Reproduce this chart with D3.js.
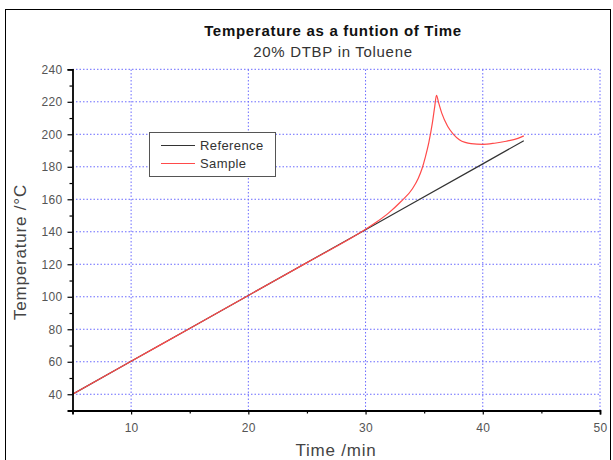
<!DOCTYPE html>
<html><head><meta charset="utf-8">
<script src="https://cdn.jsdelivr.net/npm/d3@7"></script>
<style>body{margin:0;background:#fff;}svg{display:block;font-family:"Liberation Sans",Arial,sans-serif;}</style>
</head><body>
<script>
const title = "Temperature as a funtion of Time";
const subtitle = "20% DTBP in Toluene";
const xLabel = "Time /min";
const yLabel = "Temperature /\u00B0C";
const seriesNames = ["Reference", "Sample"];
const refTime = [5, 10, 20, 30, 40, 43.5];
const refTemp = [40, 60.3, 100.8, 141.3, 181.8, 196];
const sampleTime = [5, 10, 15, 20, 25, 30, 31, 32, 33, 34, 34.5, 34.8, 35.1, 35.4, 35.7, 35.9, 36.05, 36.25, 36.5, 37, 37.5, 38, 38.5, 39, 40, 41, 42, 43, 43.5];
const sampleTemp = [40, 60.3, 80.5, 100.8, 121, 141.5, 146.3, 151.8, 158.5, 166.5, 173, 178.5, 186, 195, 207, 217, 224, 219, 213, 205, 200, 196.7, 195, 194.2, 193.8, 194.5, 195.7, 197.5, 199];
const xTicks = [10, 20, 30, 40, 50];
const xMinor = [5, 15, 25, 35, 45];
const yTicks = [40, 60, 80, 100, 120, 140, 160, 180, 200, 220, 240];
const yMinor = [50, 70, 90, 110, 130, 150, 170, 190, 210, 230];

const W = 613, H = 460;
const svg = d3.select("body").append("svg").attr("width", W).attr("height", H);
svg.append("rect").attr("x", 5.5).attr("y", 9.5).attr("width", 605).attr("height", 470)
  .attr("fill", "none").attr("stroke", "#000").attr("stroke-width", 1);

const x = d3.scaleLinear().domain([5, 50]).range([72.5, 600]);
const y = d3.scaleLinear().domain([30, 240]).range([410.5, 69.3]);

// grid
const gridColor = "#6a6aff";
const g = svg.append("g");
g.selectAll(".hg").data(yTicks).join("line")
  .attr("x1", x(5)).attr("x2", x(50)).attr("y1", d => y(d)).attr("y2", d => y(d))
  .attr("stroke", gridColor).attr("stroke-width", 1).attr("stroke-dasharray", "1.5,2");
g.selectAll(".vg").data(xTicks).join("line")
  .attr("y1", y(30)).attr("y2", y(240)).attr("x1", d => x(d)).attr("x2", d => x(d))
  .attr("stroke", gridColor).attr("stroke-width", 1).attr("stroke-dasharray", "1.5,2");

// lines
const refData = refTime.map((t, i) => [t, refTemp[i]]);
const sampleData = sampleTime.map((t, i) => [t, sampleTemp[i]]);
const line = d3.line().x(d => x(d[0])).y(d => y(d[1])).curve(d3.curveMonotoneX);
svg.append("path").datum(refData).attr("d", line).attr("fill", "none")
  .attr("stroke", "#333").attr("stroke-width", 1.2);
svg.append("path").datum(sampleData).attr("d", line).attr("fill", "none")
  .attr("stroke", "#ff4a4a").attr("stroke-width", 1.2);

// axes
svg.append("g").attr("transform", `translate(0,${y(30)})`)
  .call(d3.axisBottom(x).tickValues(xTicks).tickSize(4).tickPadding(9).tickFormat(d3.format("d")));
svg.append("g").attr("transform", `translate(0,${y(30)})`)
  .call(d3.axisBottom(x).tickValues(xMinor).tickSize(3).tickFormat(""))
  .call(s => s.select(".domain").remove());
svg.append("g").attr("transform", `translate(${x(5)},0)`)
  .call(d3.axisLeft(y).tickValues(yTicks).tickSize(5).tickPadding(5).tickFormat(d3.format("d")));
svg.append("g").attr("transform", `translate(${x(5)},0)`)
  .call(d3.axisLeft(y).tickValues(yMinor).tickSize(3).tickFormat(""))
  .call(s => s.select(".domain").remove());
svg.selectAll(".domain").attr("stroke", "#000").attr("stroke-width", 1.8);
svg.selectAll(".tick line").attr("stroke", "#000").attr("stroke-width", 1.2);
svg.selectAll(".tick text").attr("fill", "#555").style("font-size", "12px")
  .style("letter-spacing", "0.3px")
  .style("font-family", "'Liberation Sans',Arial,sans-serif");

// titles
svg.append("text").attr("x", 333).attr("y", 36).attr("text-anchor", "middle")
  .style("font-size", "15px").style("font-weight", "bold").style("letter-spacing", "0.7px")
  .attr("fill", "#111").text(title);
svg.append("text").attr("x", 333).attr("y", 57).attr("text-anchor", "middle")
  .style("font-size", "15px").style("letter-spacing", "0.7px").attr("fill", "#333").text(subtitle);
svg.append("text").attr("x", 336).attr("y", 456).attr("text-anchor", "middle")
  .style("font-size", "17px").style("letter-spacing", "0.8px").attr("fill", "#444").text(xLabel);
svg.append("text").attr("transform", "translate(26,252) rotate(-90)").attr("text-anchor", "middle")
  .style("font-size", "17px").style("letter-spacing", "0.8px").attr("fill", "#444").text(yLabel);

// legend
const lg = svg.append("g");
lg.append("rect").attr("x", 149.5).attr("y", 132.5).attr("width", 126).attr("height", 44)
  .attr("fill", "#fff").attr("stroke", "#555").attr("stroke-width", 1);
const colors = ["#333", "#ff4a4a"];
seriesNames.forEach((n, i) => {
  const yy = 145.5 + i * 18;
  lg.append("line").attr("x1", 161).attr("x2", 195).attr("y1", yy).attr("y2", yy)
    .attr("stroke", colors[i]).attr("stroke-width", 1.2);
  lg.append("text").attr("x", 200).attr("y", yy + 4).style("font-size", "13px")
    .style("letter-spacing", "0.4px").attr("fill", "#333").text(n);
});
</script>
</body></html>
